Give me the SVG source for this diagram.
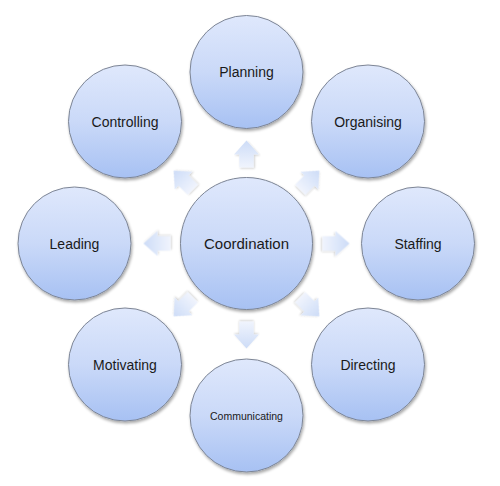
<svg xmlns="http://www.w3.org/2000/svg" width="500" height="486" viewBox="0 0 500 486">
<defs>
<linearGradient id="cg" x1="0" y1="0" x2="0" y2="1">
<stop offset="0" stop-color="#dfe8fc"/>
<stop offset="0.5" stop-color="#cad9f8"/>
<stop offset="1" stop-color="#a7c1f3"/>
</linearGradient>
<linearGradient id="ag" x1="0" y1="0" x2="0" y2="1">
<stop offset="0" stop-color="#cddcf7"/>
<stop offset="1" stop-color="#f0f4fd"/>
</linearGradient>
<filter id="sh" x="-20%" y="-20%" width="140%" height="140%">
<feGaussianBlur in="SourceAlpha" stdDeviation="1.5"/>
<feOffset dx="0.5" dy="1.5" result="b"/>
<feComponentTransfer><feFuncA type="linear" slope="0.35"/></feComponentTransfer>
<feMerge><feMergeNode/><feMergeNode in="SourceGraphic"/></feMerge>
</filter>
<filter id="ash" x="-30%" y="-30%" width="160%" height="160%">
<feGaussianBlur in="SourceAlpha" stdDeviation="1.2"/>
<feOffset dx="0.5" dy="1.2" result="b"/>
<feComponentTransfer><feFuncA type="linear" slope="0.2"/></feComponentTransfer>
<feMerge><feMergeNode/><feMergeNode in="SourceGraphic"/></feMerge>
</filter>
<path id="arr" d="M0,-103 L12.5,-89 L7.2,-89 L7.2,-76 L-7.2,-76 L-7.2,-89 L-12.5,-89 Z"/>
</defs>
<style>
.node circle{fill:url(#cg);stroke:#7d8595;stroke-width:1;filter:url(#sh)}
.node text{font-family:"Liberation Sans",Arial,sans-serif;font-size:14px;fill:#1a1a1a;text-anchor:middle}
.arrow{fill:url(#ag);filter:url(#ash)}
</style>
<rect width="500" height="486" fill="#ffffff"/>
<g id="connectors" transform="translate(246.5,243.5)">
<use href="#arr" class="arrow" transform="rotate(0)"/>
<use href="#arr" class="arrow" transform="rotate(45)"/>
<use href="#arr" class="arrow" transform="rotate(90)"/>
<use href="#arr" class="arrow" transform="rotate(135)"/>
<use href="#arr" class="arrow" transform="translate(0,2) rotate(180)"/>
<use href="#arr" class="arrow" transform="rotate(225)"/>
<use href="#arr" class="arrow" transform="rotate(270)"/>
<use href="#arr" class="arrow" transform="rotate(315)"/>
</g>
<g id="coordination" class="node"><circle cx="246.5" cy="243.5" r="66"/><text x="246.5" y="249" style="font-size:15px">Coordination</text></g>
<g id="planning" class="node"><circle cx="246.5" cy="72" r="56.5"/><text x="246.5" y="77">Planning</text></g>
<g id="organising" class="node"><circle cx="368" cy="121.5" r="56.5"/><text x="368" y="126.5">Organising</text></g>
<g id="staffing" class="node"><circle cx="418" cy="243.5" r="56.5"/><text x="418" y="248.5">Staffing</text></g>
<g id="directing" class="node"><circle cx="368" cy="364.5" r="56.5"/><text x="368" y="369.5">Directing</text></g>
<g id="communicating" class="node"><circle cx="246.5" cy="415.5" r="56.5"/><text x="246.5" y="419.5" style="font-size:10.5px">Communicating</text></g>
<g id="motivating" class="node"><circle cx="125" cy="364.5" r="56.5"/><text x="125" y="369.5">Motivating</text></g>
<g id="leading" class="node"><circle cx="74.5" cy="243.5" r="56.5"/><text x="74.5" y="248.5">Leading</text></g>
<g id="controlling" class="node"><circle cx="125" cy="121.5" r="56.5"/><text x="125" y="126.5">Controlling</text></g>
</svg>
